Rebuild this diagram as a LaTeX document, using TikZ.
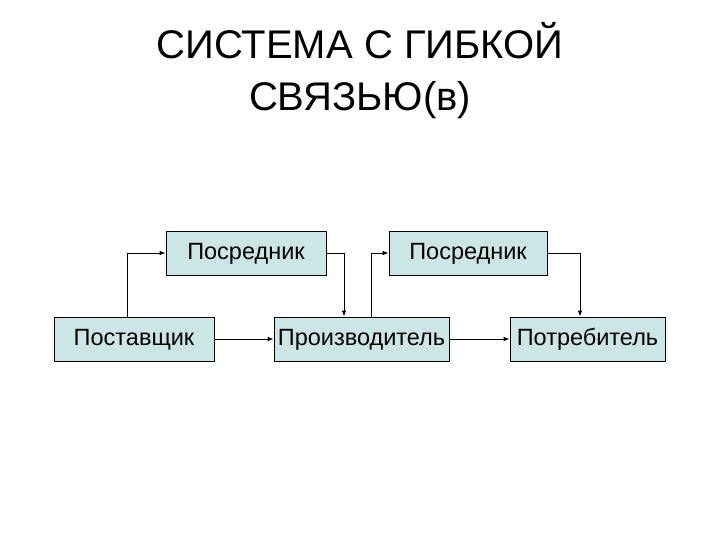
\documentclass[tikz,border=0pt]{standalone}
\usepackage{fontspec}
\setmainfont{Liberation Sans}
\usetikzlibrary{arrows.meta}
\definecolor{boxfill}{RGB}{204,230,230}
\begin{document}
\begin{tikzpicture}[x=1pt,y=-1pt,
  bx/.style={draw=black,fill=boxfill,line width=0.8pt,minimum height=44pt,inner sep=0pt,text height=17pt,text depth=4pt,font=\fontsize{23.5}{26}\selectfont},
  con/.style={draw=black,line width=0.8pt,-{Latex[length=6pt,width=4.5pt]}}]
\useasboundingbox (0,0) rectangle (720,540);
\node[font=\fontsize{40}{52}\selectfont,align=center] (title) at (360,71) {СИСТЕМА С ГИБКОЙ\\СВЯЗЬЮ(в)};
\node[bx,minimum width=160pt] (m1) at (246,253) {Посредник};
\node[bx,minimum width=158pt] (m2) at (468,253) {Посредник};
\node[bx,minimum width=160pt] (s) at (134,339) {Поставщик};
\node[bx,minimum width=175pt] (p) at (361.5,339) {Производитель};
\node[bx,minimum width=155pt] (c) at (587.5,339) {Потребитель};
\draw[con] (s.north -| 127,0) |- (m1.west);
\draw[con] (m1.east) -| (344,0 |- p.north);
\draw[con] (s.east) -- (p.west);
\draw[con] (p.north -| 371,0) |- (m2.west);
\draw[con] (m2.east) -| (580,0 |- c.north);
\draw[con] (p.east) -- (c.west);
\end{tikzpicture}
\end{document}
